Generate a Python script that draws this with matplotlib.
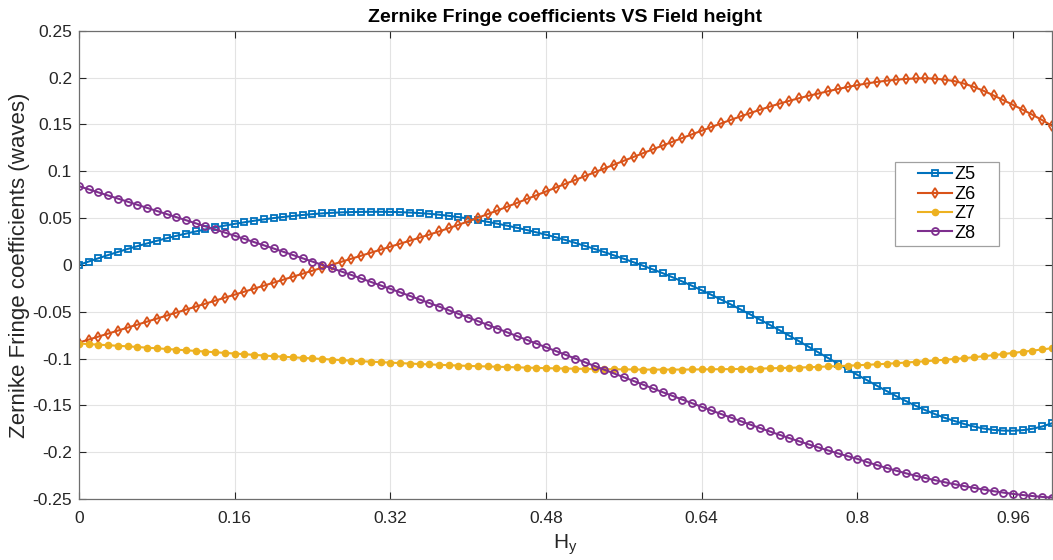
import numpy as np
import matplotlib
matplotlib.use("Agg")
import matplotlib.pyplot as plt
from matplotlib.patches import Rectangle

plt.rcParams['font.family'] = ['Liberation Sans', 'DejaVu Sans']
plt.rcParams['axes.unicode_minus'] = False

# Field height (normalised), 0 to 1 in 0.01 steps
hy = np.linspace(0, 1, 101)

# Zernike fringe coefficients (waves)
z5 = [0.0000, 0.0036, 0.0071, 0.0105, 0.0138, 0.0170, 0.0200, 0.0229, 0.0257, 0.0284,
      0.0310, 0.0334, 0.0357, 0.0379, 0.0400, 0.0420, 0.0438, 0.0455, 0.0471, 0.0486,
      0.0500, 0.0512, 0.0523, 0.0533, 0.0542, 0.0550, 0.0556, 0.0561, 0.0564, 0.0566,
      0.0567, 0.0567, 0.0566, 0.0563, 0.0559, 0.0553, 0.0546, 0.0536, 0.0524, 0.0510,
      0.0495, 0.0478, 0.0460, 0.0440, 0.0419, 0.0397, 0.0373, 0.0348, 0.0322, 0.0295,
      0.0266, 0.0235, 0.0203, 0.0170, 0.0136, 0.0101, 0.0065, 0.0028, -0.0010, -0.0049,
      -0.0089, -0.0132, -0.0177, -0.0223, -0.0271, -0.0320, -0.0371, -0.0423, -0.0476, -0.0530,
      -0.0585, -0.0641, -0.0698, -0.0756, -0.0815, -0.0875, -0.0935, -0.0995, -0.1055, -0.1115,
      -0.1175, -0.1232, -0.1290, -0.1347, -0.1402, -0.1455, -0.1505, -0.1552, -0.1595, -0.1634,
      -0.1668, -0.1700, -0.1727, -0.1748, -0.1762, -0.1770, -0.1771, -0.1765, -0.1750, -0.1726,
      -0.1692]

z6 = [-0.0830, -0.0798, -0.0766, -0.0734, -0.0702, -0.0670, -0.0638, -0.0606, -0.0574, -0.0542,
      -0.0510, -0.0478, -0.0446, -0.0414, -0.0382, -0.0350, -0.0318, -0.0286, -0.0254, -0.0222,
      -0.0190, -0.0158, -0.0126, -0.0094, -0.0062, -0.0030, 0.0002, 0.0034, 0.0066, 0.0098,
      0.0130, 0.0162, 0.0194, 0.0226, 0.0258, 0.0290, 0.0323, 0.0357, 0.0392, 0.0428,
      0.0465, 0.0503, 0.0542, 0.0581, 0.0621, 0.0661, 0.0702, 0.0743, 0.0784, 0.0825,
      0.0866, 0.0907, 0.0948, 0.0989, 0.1030, 0.1071, 0.1112, 0.1153, 0.1194, 0.1235,
      0.1275, 0.1315, 0.1355, 0.1394, 0.1433, 0.1472, 0.1511, 0.1549, 0.1586, 0.1622,
      0.1657, 0.1690, 0.1722, 0.1752, 0.1780, 0.1806, 0.1830, 0.1855, 0.1878, 0.1900,
      0.1920, 0.1938, 0.1954, 0.1967, 0.1978, 0.1986, 0.1991, 0.1993, 0.1988, 0.1978,
      0.1962, 0.1935, 0.1900, 0.1858, 0.1810, 0.1760, 0.1709, 0.1657, 0.1603, 0.1546,
      0.1485]

z7 = [-0.0840, -0.0846, -0.0852, -0.0858, -0.0864, -0.0870, -0.0877, -0.0884, -0.0891, -0.0898,
      -0.0905, -0.0912, -0.0919, -0.0926, -0.0933, -0.0940, -0.0947, -0.0954, -0.0961, -0.0968,
      -0.0975, -0.0981, -0.0987, -0.0993, -0.0999, -0.1005, -0.1011, -0.1017, -0.1023, -0.1029,
      -0.1034, -0.1039, -0.1044, -0.1049, -0.1054, -0.1059, -0.1063, -0.1067, -0.1071, -0.1075,
      -0.1079, -0.1082, -0.1085, -0.1088, -0.1091, -0.1094, -0.1097, -0.1100, -0.1103, -0.1105,
      -0.1107, -0.1109, -0.1111, -0.1113, -0.1114, -0.1115, -0.1116, -0.1117, -0.1118, -0.1118,
      -0.1118, -0.1118, -0.1118, -0.1117, -0.1116, -0.1115, -0.1114, -0.1113, -0.1111, -0.1109,
      -0.1107, -0.1105, -0.1102, -0.1099, -0.1096, -0.1093, -0.1089, -0.1085, -0.1081, -0.1077,
      -0.1072, -0.1067, -0.1062, -0.1056, -0.1050, -0.1043, -0.1036, -0.1029, -0.1021, -0.1013,
      -0.1005, -0.0996, -0.0986, -0.0975, -0.0964, -0.0952, -0.0940, -0.0928, -0.0916, -0.0903,
      -0.0890]

z8 = [0.0840, 0.0807, 0.0774, 0.0741, 0.0708, 0.0675, 0.0642, 0.0609, 0.0576, 0.0543,
      0.0510, 0.0477, 0.0444, 0.0411, 0.0378, 0.0345, 0.0311, 0.0277, 0.0243, 0.0209,
      0.0175, 0.0140, 0.0105, 0.0070, 0.0035, 0.0000, -0.0036, -0.0072, -0.0108, -0.0145,
      -0.0182, -0.0219, -0.0256, -0.0293, -0.0331, -0.0369, -0.0407, -0.0445, -0.0484, -0.0523,
      -0.0562, -0.0601, -0.0640, -0.0680, -0.0720, -0.0760, -0.0800, -0.0840, -0.0880, -0.0920,
      -0.0960, -0.1000, -0.1040, -0.1080, -0.1120, -0.1160, -0.1200, -0.1240, -0.1280, -0.1320,
      -0.1360, -0.1399, -0.1438, -0.1477, -0.1516, -0.1555, -0.1593, -0.1631, -0.1669, -0.1706,
      -0.1743, -0.1779, -0.1815, -0.1850, -0.1884, -0.1917, -0.1950, -0.1982, -0.2013, -0.2043,
      -0.2072, -0.2106, -0.2138, -0.2169, -0.2198, -0.2226, -0.2252, -0.2277, -0.2300, -0.2322,
      -0.2343, -0.2363, -0.2382, -0.2400, -0.2417, -0.2432, -0.2446, -0.2458, -0.2469, -0.2478,
      -0.2485]

xticks = [0, 0.16, 0.32, 0.48, 0.64, 0.8, 0.96]
xtick_labels = ['0', '0.16', '0.32', '0.48', '0.64', '0.8', '0.96']
yticks = [-0.25, -0.2, -0.15, -0.1, -0.05, 0, 0.05, 0.1, 0.15, 0.2, 0.25]
ytick_labels = ['-0.25', '-0.2', '-0.15', '-0.1', '-0.05', '0', '0.05', '0.1', '0.15', '0.2', '0.25']

fig = plt.figure(figsize=(10.53, 5.60), dpi=100)
ax = fig.add_axes([0.075, 0.109, 0.924, 0.836])

# MATLAB default colour order
ax.plot(hy, z5, color='#0072BD', lw=1.5, marker='s', ms=3.8, mfc='none', mew=1.3, label='Z5')
ax.plot(hy, z6, color='#D95319', lw=1.5, marker='d', ms=5.6, mfc='none', mew=1.3, label='Z6')
ax.plot(hy, z7, color='#EDB120', lw=1.5, marker='.', ms=9, label='Z7')
ax.plot(hy, z8, color='#7E2F8E', lw=1.5, marker='o', ms=5.0, mfc='none', mew=1.3, label='Z8')

ax.set_xlim(0, 1)
ax.set_ylim(-0.25, 0.25)
ax.set_xticks(xticks)
ax.set_xticklabels(xtick_labels)
ax.set_yticks(yticks)
ax.set_yticklabels(ytick_labels)

ax.grid(True, color='#e3e3e3', lw=0.8)
ax.set_axisbelow(True)
ax.tick_params(direction='in', length=5, width=0.8, colors='#262626',
               labelsize=12.5, top=True, right=True)
ax.tick_params(axis='x', pad=9)
ax.tick_params(axis='y', pad=5)
for s in ax.spines.values():
    s.set_color('#6e6e6e')
    s.set_linewidth(0.9)

ax.set_title('Zernike Fringe coefficients VS Field height', fontsize=14,
             fontweight='bold', pad=6)
ax.set_ylabel('Zernike Fringe coefficients (waves)', fontsize=16, color='#262626',
              va='center')
ax.yaxis.set_label_coords(-0.061, 0.5)
ax.set_xlabel('H$_\\mathregular{y}$', fontsize=15, color='#262626', labelpad=4)

# legend box drawn separately to get MATLAB-like wide side padding
ax.add_patch(Rectangle((0.8386, 0.5406), 0.1069, 0.1795, transform=ax.transAxes,
                       facecolor='white', edgecolor='#a0a0a0', lw=0.9, zorder=5))
leg = ax.legend(loc='center', bbox_to_anchor=(0.892, 0.630), fontsize=13,
                handlelength=1.9, handletextpad=0.15, labelspacing=0.13,
                borderpad=0.2, frameon=False)
leg.set_zorder(6)

fig.savefig('out.png', dpi=100)
